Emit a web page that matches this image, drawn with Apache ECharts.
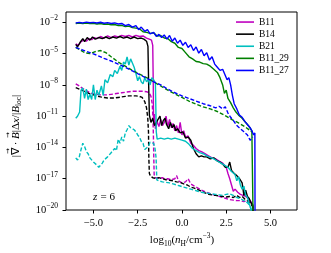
<!DOCTYPE html>
<html><head><meta charset="utf-8">
<script src="https://cdn.jsdelivr.net/npm/echarts@6/dist/echarts.min.js"></script>
<style>html,body{margin:0;padding:0;background:#fff}#c{width:331px;height:253px}</style>
</head><body><div id="c"></div>
<script>
// ---- data: [log10 nH, log10 |div B| dx / |B|] ----
const seriesNames = ['B11', 'B14', 'B21', 'B11_29', 'B11_27'];
const xTickValues = [-5, -2.5, 0, 2.5, 5];
const yTickValues = [1e-20, 1e-17, 1e-14, 1e-11, 1e-8, 1e-5, 1e-2];

const b11Solid = [[-6,-4.05],[-5.85,-4.2],[-5.7,-3.85],[-5.55,-3.7],[-5.4,-3.8],[-5.25,-3.55],[-5.1,-3.65],[-4.95,-3.45],[-4.8,-3.55],[-4.6,-3.35],[-4.4,-3.5],[-4.2,-3.3],[-4.0,-3.45],[-3.8,-3.3],[-3.6,-3.4],[-3.4,-3.25],[-3.2,-3.35],[-3.0,-3.25],[-2.8,-3.4],[-2.6,-3.25],[-2.4,-3.35],[-2.2,-3.3],[-2.0,-3.5],[-1.85,-3.6],[-1.72,-3.7],[-1.65,-4.2],[-1.62,-8],[-1.6,-11.8],[-1.55,-10.8],[-1.5,-12.2],[-1.4,-11.5],[-1.3,-12.0],[-1.2,-11.3],[-1.1,-11.9],[-1.0,-11.6],[-0.9,-11.0],[-0.8,-12.0],[-0.7,-11.3],[-0.6,-12.1],[-0.5,-11.7],[-0.4,-12.4],[-0.3,-11.9],[-0.2,-12.6],[-0.1,-11.6],[0.0,-12.8],[0.1,-12.4],[0.2,-13.0],[0.35,-12.9],[0.5,-13.6],[0.65,-13.8],[0.8,-14.1],[0.95,-14.3],[1.1,-14.4],[1.3,-14.6],[1.5,-14.8],[1.7,-15.0],[1.9,-15.1],[2.1,-15.3],[2.3,-15.5],[2.5,-15.9],[2.6,-16.5],[2.7,-17.0],[2.8,-17.6],[2.9,-18.2],[3.0,-18.0],[3.15,-18.3],[3.3,-18.5],[3.45,-18.6],[3.6,-18.7],[3.75,-18.9],[3.9,-19.2],[4.0,-19.6],[4.08,-21]];
const b11Dashed = [[-6,-7.9],[-5.8,-8.1],[-5.6,-8.35],[-5.4,-8.55],[-5.2,-8.75],[-5.0,-8.85],[-4.8,-8.9],[-4.6,-8.95],[-4.4,-8.95],[-4.2,-8.95],[-4.0,-8.9],[-3.8,-8.85],[-3.6,-8.8],[-3.4,-8.75],[-3.2,-8.7],[-3.0,-8.65],[-2.8,-8.6],[-2.6,-8.6],[-2.4,-8.6],[-2.2,-8.6],[-2.0,-8.65],[-1.85,-8.75],[-1.75,-9.1],[-1.68,-9.8],[-1.64,-11],[-1.61,-13],[-1.59,-15],[-1.57,-16.6],[-1.5,-16.9],[-1.4,-16.8],[-1.25,-16.95],[-1.1,-16.9],[-0.95,-17.05],[-0.8,-17.0],[-0.6,-17.1],[-0.4,-17.0],[-0.3,-16.7],[-0.2,-17.2],[0.0,-17.4],[0.2,-17.3],[0.35,-17.0],[0.5,-17.5],[0.7,-17.7],[0.9,-17.9],[1.1,-18.1],[1.3,-18.25],[1.5,-18.35],[1.7,-18.5],[1.9,-18.6],[2.1,-18.7],[2.3,-18.8],[2.5,-18.9],[2.7,-19.0],[2.9,-19.05],[3.1,-19.1],[3.3,-19.1],[3.5,-19.2],[3.7,-19.1],[3.85,-19.3],[4.0,-19.6],[4.05,-21]];
const b14Solid = [[-6,-4.1],[-5.9,-4.35],[-5.75,-3.9],[-5.6,-3.55],[-5.5,-3.85],[-5.35,-3.45],[-5.2,-3.7],[-5.05,-3.4],[-4.9,-3.6],[-4.7,-3.45],[-4.5,-3.55],[-4.3,-3.4],[-4.1,-3.55],[-3.9,-3.4],[-3.7,-3.5],[-3.5,-3.35],[-3.3,-3.5],[-3.1,-3.4],[-2.9,-3.55],[-2.7,-3.4],[-2.5,-3.55],[-2.3,-3.5],[-2.15,-3.6],[-2.0,-3.8],[-1.92,-4.3],[-1.88,-8],[-1.84,-10.9],[-1.75,-11.6],[-1.65,-11.2],[-1.55,-11.9],[-1.45,-12.0],[-1.35,-11.3],[-1.24,-11.0],[-1.15,-11.9],[-1.05,-11.4],[-0.95,-11.2],[-0.87,-11.8],[-0.75,-12.2],[-0.65,-11.6],[-0.55,-12.1],[-0.45,-11.8],[-0.35,-12.4],[-0.25,-12.2],[-0.1,-12.6],[0.05,-12.5],[0.2,-13.1],[0.35,-13.0],[0.5,-13.3],[0.65,-14.1],[0.8,-14.6],[0.95,-14.9],[1.1,-14.8],[1.25,-14.9],[1.4,-14.9],[1.6,-15.1],[1.8,-15.0],[2.0,-15.3],[2.15,-15.4],[2.3,-15.6],[2.45,-15.9],[2.6,-15.9],[2.7,-15.4],[2.8,-16.2],[2.95,-16.5],[3.1,-16.7],[3.25,-17.0],[3.4,-17.4],[3.5,-18.6],[3.6,-18.1],[3.7,-18.7],[3.8,-18.9],[3.9,-19.3],[4.0,-19.5],[4.05,-21]];
const b14Dashed = [[-6,-8.25],[-5.8,-8.4],[-5.6,-8.55],[-5.4,-8.7],[-5.2,-8.85],[-5.0,-8.95],[-4.8,-9.05],[-4.6,-9.15],[-4.4,-9.2],[-4.2,-9.25],[-4.0,-9.25],[-3.8,-9.25],[-3.6,-9.2],[-3.4,-9.15],[-3.2,-9.1],[-3.0,-9.05],[-2.8,-9.05],[-2.6,-9.05],[-2.4,-9.1],[-2.25,-9.2],[-2.1,-9.6],[-2.0,-10.2],[-1.93,-11.2],[-1.89,-12.5],[-1.87,-15],[-1.84,-16.5],[-1.78,-16.75],[-1.65,-16.9],[-1.5,-16.95],[-1.3,-16.9],[-1.1,-17.0],[-0.9,-17.1],[-0.7,-17.15],[-0.5,-17.2],[-0.3,-17.3],[-0.1,-17.35],[0.1,-17.5],[0.3,-17.6],[0.5,-17.8],[0.7,-17.9],[0.9,-18.05],[1.1,-18.2],[1.3,-18.35],[1.5,-18.5],[1.7,-18.55],[1.9,-18.6],[2.1,-18.65],[2.3,-18.7],[2.5,-18.75],[2.7,-18.7],[2.9,-18.8],[3.1,-18.6],[3.25,-18.8],[3.4,-18.7],[3.55,-18.95],[3.7,-19.1],[3.85,-19.3],[4.0,-19.7],[4.05,-21]];
const b21Solid = [[-6,-11.2],[-5.9,-11.0],[-5.78,-10.6],[-5.7,-8.5],[-5.6,-8.3],[-5.5,-9.3],[-5.4,-8.4],[-5.3,-9.4],[-5.2,-8.9],[-5.1,-9.4],[-5.0,-8.0],[-4.9,-9.4],[-4.8,-8.5],[-4.7,-9.0],[-4.55,-8.1],[-4.45,-9.0],[-4.35,-7.5],[-4.2,-7.8],[-4.05,-7.0],[-3.9,-7.2],[-3.8,-6.6],[-3.65,-6.9],[-3.5,-6.2],[-3.4,-6.6],[-3.3,-5.8],[-3.2,-6.0],[-3.1,-5.3],[-3.0,-6.1],[-2.9,-5.5],[-2.8,-5.9],[-2.7,-6.3],[-2.6,-6.9],[-2.5,-7.6],[-2.4,-7.2],[-2.3,-7.7],[-2.2,-7.9],[-2.1,-7.3],[-2.0,-7.7],[-1.9,-7.5],[-1.8,-8.0],[-1.7,-7.3],[-1.6,-7.5],[-1.5,-7.8],[-1.45,-12.5],[-1.4,-13.2],[-1.2,-13.1],[-1.0,-13.2],[-0.8,-13.1],[-0.6,-13.2],[-0.4,-13.1],[-0.2,-13.2],[0,-13.3],[0.2,-13.4],[0.4,-13.7],[0.6,-14.1],[0.8,-14.3],[1.0,-14.5],[1.2,-14.6],[1.4,-14.8],[1.6,-14.95],[1.8,-15.1],[2.0,-15.3],[2.2,-15.5],[2.4,-15.7],[2.6,-15.9],[2.8,-16.3],[3.0,-16.6],[3.1,-17.2],[3.2,-16.8],[3.3,-17.6],[3.4,-18.0],[3.5,-17.7],[3.6,-18.6],[3.7,-18.8],[3.8,-19.4],[3.9,-19.9],[3.95,-20.5]];
const b21Dashed = [[-6,-15.0],[-5.9,-15.2],[-5.8,-14.9],[-5.7,-14.2],[-5.6,-13.6],[-5.5,-13.9],[-5.4,-14.4],[-5.3,-14.6],[-5.2,-15.0],[-5.1,-14.9],[-5.0,-15.4],[-4.9,-15.5],[-4.8,-15.7],[-4.7,-15.9],[-4.6,-15.8],[-4.5,-15.5],[-4.4,-15.2],[-4.3,-15.3],[-4.2,-14.9],[-4.1,-15.0],[-4.0,-14.5],[-3.9,-14.6],[-3.8,-14.1],[-3.7,-14.3],[-3.6,-13.2],[-3.5,-13.6],[-3.4,-13.0],[-3.3,-13.4],[-3.2,-12.6],[-3.1,-12.3],[-3.0,-11.9],[-2.9,-12.1],[-2.8,-12.0],[-2.7,-12.3],[-2.6,-12.5],[-2.5,-12.8],[-2.4,-13.0],[-2.3,-13.4],[-2.2,-13.6],[-2.1,-14.2],[-2.0,-14.3],[-1.9,-13.9],[-1.8,-13.5],[-1.7,-13.4],[-1.6,-13.6],[-1.52,-14.1],[-1.46,-15],[-1.42,-17.1],[-1.3,-17.2],[-1.1,-17.3],[-0.9,-17.35],[-0.7,-17.4],[-0.5,-17.5],[-0.3,-17.6],[-0.1,-17.7],[0.1,-17.8],[0.3,-17.9],[0.5,-18.0],[0.7,-18.1],[0.9,-18.2],[1.1,-18.3],[1.3,-18.35],[1.5,-18.4],[1.7,-18.45],[1.9,-18.5],[2.1,-18.55],[2.3,-18.6],[2.5,-18.5],[2.7,-18.45],[2.9,-18.6],[3.1,-18.8],[3.3,-18.9],[3.5,-19.1],[3.7,-19.3],[3.85,-19.6],[3.95,-20.2]];
const b1129Solid = [[-6,-2.1],[-5.8,-2.05],[-5.6,-2.12],[-5.4,-2.06],[-5.2,-2.12],[-5.0,-2.08],[-4.8,-2.15],[-4.6,-2.1],[-4.4,-2.18],[-4.2,-2.15],[-4.0,-2.22],[-3.8,-2.2],[-3.6,-2.3],[-3.4,-2.28],[-3.2,-2.4],[-3.0,-2.35],[-2.8,-2.5],[-2.6,-2.55],[-2.4,-2.6],[-2.2,-2.9],[-2.0,-2.95],[-1.8,-3.05],[-1.6,-3.0],[-1.4,-3.3],[-1.2,-3.25],[-1.0,-3.5],[-0.8,-3.55],[-0.6,-3.85],[-0.4,-4.0],[-0.2,-4.4],[0.0,-4.5],[0.2,-4.9],[0.4,-5.3],[0.6,-5.5],[0.8,-5.75],[1.0,-5.8],[1.2,-5.95],[1.4,-6.0],[1.6,-6.2],[1.8,-6.5],[2.0,-6.8],[2.15,-7.3],[2.3,-8.0],[2.4,-8.8],[2.5,-8.5],[2.6,-9.3],[2.75,-9.7],[2.9,-10.2],[3.05,-10.6],[3.2,-10.9],[3.4,-11.2],[3.6,-11.6],[3.8,-12.0],[3.95,-12.4],[4.02,-12.5],[4.03,-22]];
const b1129Dashed = [[-6,-4.4],[-5.8,-4.6],[-5.5,-4.9],[-5.2,-5.0],[-4.9,-4.8],[-4.6,-4.7],[-4.3,-4.9],[-4.0,-5.3],[-3.6,-5.8],[-3.2,-6.2],[-2.8,-6.6],[-2.4,-6.95],[-2.0,-7.3],[-1.6,-7.7],[-1.2,-8.1],[-0.8,-8.5],[-0.4,-8.85],[0,-9.2],[0.4,-9.55],[0.8,-9.85],[1.2,-10.1],[1.6,-10.3],[2.0,-10.55],[2.4,-10.9],[2.8,-11.3],[3.2,-11.65],[3.6,-12.05],[3.9,-12.45],[4.0,-12.5]];
const b1127Solid = [[-6,-2.05],[-5.8,-2.0],[-5.6,-2.05],[-5.4,-1.97],[-5.2,-2.03],[-5.0,-2.0],[-4.8,-2.06],[-4.6,-1.98],[-4.4,-2.08],[-4.2,-2.02],[-4.0,-2.1],[-3.8,-2.05],[-3.6,-2.15],[-3.4,-2.1],[-3.2,-2.3],[-3.0,-2.2],[-2.8,-2.45],[-2.6,-2.3],[-2.45,-2.7],[-2.3,-2.45],[-2.1,-2.85],[-1.95,-2.7],[-1.8,-3.1],[-1.6,-2.95],[-1.45,-3.35],[-1.3,-3.15],[-1.15,-3.45],[-1.0,-3.2],[-0.85,-3.6],[-0.7,-3.25],[-0.55,-3.8],[-0.4,-3.5],[-0.25,-4.0],[-0.1,-3.7],[0.05,-4.2],[0.2,-3.9],[0.35,-4.4],[0.5,-4.15],[0.65,-4.7],[0.8,-4.35],[0.95,-4.95],[1.1,-4.6],[1.25,-5.2],[1.4,-4.9],[1.55,-5.6],[1.7,-5.3],[1.85,-6.0],[2.0,-6.3],[2.15,-6.6],[2.3,-6.5],[2.45,-7.1],[2.55,-7.5],[2.65,-7.3],[2.75,-8.0],[2.85,-9.0],[2.95,-9.8],[3.1,-10.3],[3.25,-10.9],[3.4,-11.1],[3.55,-11.5],[3.7,-11.8],[3.85,-12.1],[3.95,-12.4],[4.05,-12.8],[4.12,-12.6],[4.13,-22]];
const b1127Dashed = [[-6,-4.4],[-5.6,-4.65],[-5.2,-4.9],[-4.8,-5.15],[-4.4,-5.45],[-4.0,-5.7],[-3.6,-6.0],[-3.2,-6.3],[-2.8,-6.65],[-2.4,-7.0],[-2.0,-7.35],[-1.6,-7.7],[-1.2,-8.0],[-0.8,-8.4],[-0.4,-8.75],[0,-9.05],[0.4,-9.3],[0.8,-9.55],[1.2,-9.8],[1.6,-10.0],[1.9,-10.2],[2.1,-10.05],[2.3,-10.3],[2.45,-10.1],[2.6,-10.7],[2.75,-11.1],[2.9,-11.4],[3.1,-11.9],[3.3,-12.2],[3.5,-12.5],[3.7,-12.8],[3.85,-13.3],[4.0,-13.0]];

// ---- styles ----
const colors = ['#bf00bf', '#000000', '#00bfbf', '#008000', '#0000ff'];
const solidSets = [b11Solid, b14Solid, b21Solid, b1129Solid, b1127Solid];
const dashedSets = [b11Dashed, b14Dashed, b21Dashed, b1129Dashed, b1127Dashed];
const FONT = 'Liberation Serif';
const LW = 1.4;

const toData = arr => arr.map(p => [p[0], Math.pow(10, p[1])]);
const series = [];
seriesNames.forEach((n, i) => {
  series.push({ name: n, type: 'line', data: toData(solidSets[i]), symbol: 'none', showSymbol: false, clip: true,
    lineStyle: { color: colors[i], width: LW }, itemStyle: { color: colors[i] }, z: 2 + i });
  series.push({ name: n + ' (dashed)', type: 'line', data: toData(dashedSets[i]), symbol: 'none', showSymbol: false, clip: true,
    lineStyle: { color: colors[i], width: LW, type: [4, 2] }, itemStyle: { color: colors[i] }, z: 2 + i });
});

// ---- y-axis title built from measured text pieces (vector arrows drawn above) ----
const mctx = document.createElement('canvas').getContext('2d');
const fontN = '11px "' + FONT + '"', fontI = 'italic 11px "' + FONT + '"', fontS = '7.5px "' + FONT + '"';
const pieces = [
  { t: '|', f: fontN }, { t: '\u2207', f: fontN, arrow: true }, { t: ' \u00B7 ', f: fontN },
  { t: 'B', f: fontI, arrow: true }, { t: '|\u0394', f: fontN }, { t: 'x', f: fontI },
  { t: '/|', f: fontN }, { t: 'B', f: fontI }, { t: 'loc', f: fontS, dy: 3 }, { t: '|', f: fontN }
];
let cur = 0;
pieces.forEach(p => { mctx.font = p.f; p.w = mctx.measureText(p.t).width; p.x = cur; cur += p.w; });
const total = cur;
const yTitleChildren = [];
pieces.forEach(p => {
  yTitleChildren.push({ type: 'text', style: { text: p.t, x: p.x - total / 2, y: p.dy || 0, font: p.f, fill: '#000', align: 'left', verticalAlign: 'middle' } });
  if (p.arrow) {
    yTitleChildren.push({ type: 'text', style: { text: '\u2192', x: p.x - total / 2 + p.w / 2 + 0.5, y: -7.5, font: '7px "DejaVu Sans"', fill: '#000', align: 'center', verticalAlign: 'middle' } });
  }
});

const chart = echarts.init(document.getElementById('c'), null, { renderer: 'canvas' });
chart.setOption({
  animation: false,
  backgroundColor: '#fff',
  grid: { left: 66, right: 34, top: 12, bottom: 43, show: true, borderColor: '#000', borderWidth: 1, containLabel: false },
  legend: {
    data: seriesNames.map(n => ({ name: n, icon: 'rect' })), orient: 'vertical', left: 236, top: 16, padding: 0,
    itemWidth: 18, itemHeight: 1.6, itemGap: 0, itemStyle: { borderWidth: 0 },
    textStyle: { fontFamily: FONT, fontSize: 9.5, lineHeight: 12.1, color: '#000' }
  },
  xAxis: {
    type: 'value', min: -6.55, max: 6.5,
    axisLine: { show: false, onZero: false },
    splitLine: { show: false },
    axisTick: { show: true, inside: false, length: 3.5, lineStyle: { color: '#000', width: 1 }, customValues: xTickValues },
    axisLabel: { customValues: xTickValues, margin: 8, fontFamily: FONT, fontSize: 10.5, color: '#000',
      formatter: v => (v < 0 ? '\u2212' : '') + Math.abs(v).toFixed(1) }
  },
  yAxis: {
    type: 'log', logBase: 10, min: 1e-20, max: 1e-1,
    axisLine: { show: false, onZero: false },
    splitLine: { show: false },
    minorTick: { show: false },
    axisTick: { show: true, inside: false, length: 3.5, lineStyle: { color: '#000', width: 1 }, customValues: yTickValues },
    axisLabel: { customValues: yTickValues, margin: 8, color: '#000',
      formatter: v => '{b|10}{s|\u2212' + Math.abs(Math.round(Math.log10(v))) + '}',
      rich: {
        b: { fontFamily: FONT, fontSize: 10.5, lineHeight: 16, verticalAlign: 'middle', color: '#000' },
        s: { fontFamily: FONT, fontSize: 7.5, lineHeight: 9, verticalAlign: 'top', color: '#000' }
      } }
  },
  series: series,
  graphic: [
    { type: 'text', x: 182, y: 240, z: 100,
      style: { text: '{n|log}{d|10}{n|(}{i|n}{d|H}{n|/cm}{u|\u22123}{n|)}', align: 'center', verticalAlign: 'middle',
        rich: {
          n: { fontFamily: FONT, fontSize: 11, lineHeight: 16, verticalAlign: 'middle', fill: '#000' },
          i: { fontFamily: FONT, fontStyle: 'italic', fontSize: 11, lineHeight: 16, verticalAlign: 'middle', fill: '#000' },
          d: { fontFamily: FONT, fontSize: 7.5, lineHeight: 8, verticalAlign: 'bottom', fill: '#000' },
          u: { fontFamily: FONT, fontSize: 7.5, lineHeight: 8, verticalAlign: 'top', fill: '#000' }
        } } },
    { type: 'group', x: 16, y: 126, rotation: Math.PI / 2, z: 100, children: yTitleChildren },
    { type: 'text', x: 93, y: 197, z: 100,
      style: { text: '{i|z} {n|= 6}', align: 'left', verticalAlign: 'middle',
        rich: {
          n: { fontFamily: FONT, fontSize: 11, fill: '#000' },
          i: { fontFamily: FONT, fontStyle: 'italic', fontSize: 11, fill: '#000' }
        } } }
  ]
});
</script></body></html>
